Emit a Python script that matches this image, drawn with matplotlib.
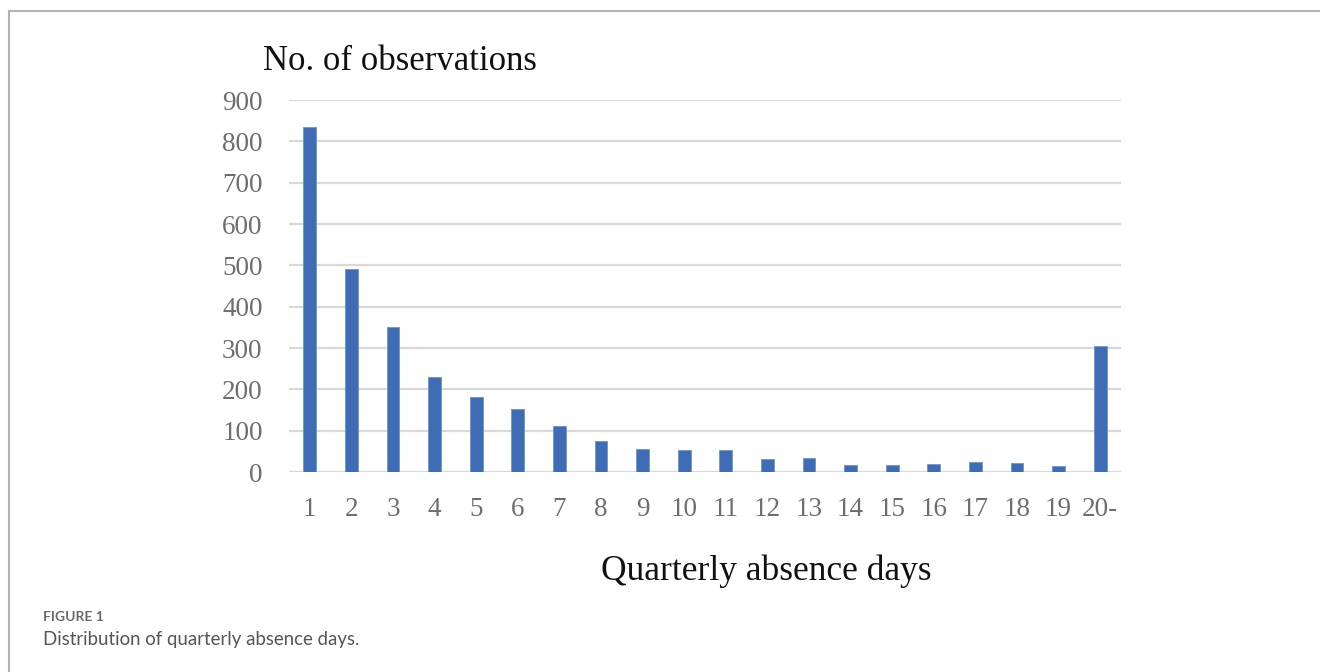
import matplotlib.pyplot as plt
from matplotlib.lines import Line2D

categories = ["1", "2", "3", "4", "5", "6", "7", "8", "9", "10",
              "11", "12", "13", "14", "15", "16", "17", "18", "19", "20-"]
observations = [834, 492, 350, 229, 182, 152, 111, 74, 56, 54,
                53, 31, 33, 16, 18, 20, 25, 21, 14, 304]
y_ticks = [0, 100, 200, 300, 400, 500, 600, 700, 800, 900]

fig = plt.figure(figsize=(13.2, 6.72), dpi=100)

# frame lines (top and left only, like the cropped figure box)
fig.add_artist(Line2D([9/1320, 1], [1-11/672, 1-11/672], color="#b3b3b3", lw=1.5))
fig.add_artist(Line2D([9/1320, 9/1320], [1-11/672, 0], color="#b3b3b3", lw=1.5))

ax = fig.add_axes([289/1320, 1-472/672, 832/1320, 372/672])
x = range(len(categories))
ax.bar(x, observations, width=0.31, color="#3e6db5", edgecolor="#6f93cc", linewidth=0.6, zorder=3)
ax.set_xlim(-0.5, len(categories)-0.5)
ax.set_ylim(0, 900)
ax.set_yticks(y_ticks)
ax.yaxis.grid(True, color="#d9d9d9", lw=1.6, zorder=0)
for s in ax.spines.values():
    s.set_visible(False)
ax.set_xticks(list(x))
ax.set_xticklabels(categories)
ax.tick_params(axis="both", length=0, labelcolor="#6e6e6e", labelsize=19.5)
ax.tick_params(axis="x", pad=18)
ax.tick_params(axis="y", pad=19)
for lab in ax.get_xticklabels() + ax.get_yticklabels():
    lab.set_family("Liberation Serif")

fig.text(263/1320, 1-62/672, "No. of observations", fontsize=25, family="Liberation Serif",
         ha="left", va="center", color="#111111")
fig.text(766/1320, 1-571/672, "Quarterly absence days", fontsize=25.5, family="Liberation Serif",
         ha="center", va="center", color="#111111")

fig.text(43/1320, 1-617/672, "FIGURE 1", fontsize=10, family="Lato", fontweight="bold",
         ha="left", va="center", color="#6b6b6b")
fig.text(43/1320, 1-640/672, "Distribution of quarterly absence days.", fontsize=13.4, family="Lato",
         ha="left", va="center", color="#555555")

fig.savefig("out.png", dpi=100)
